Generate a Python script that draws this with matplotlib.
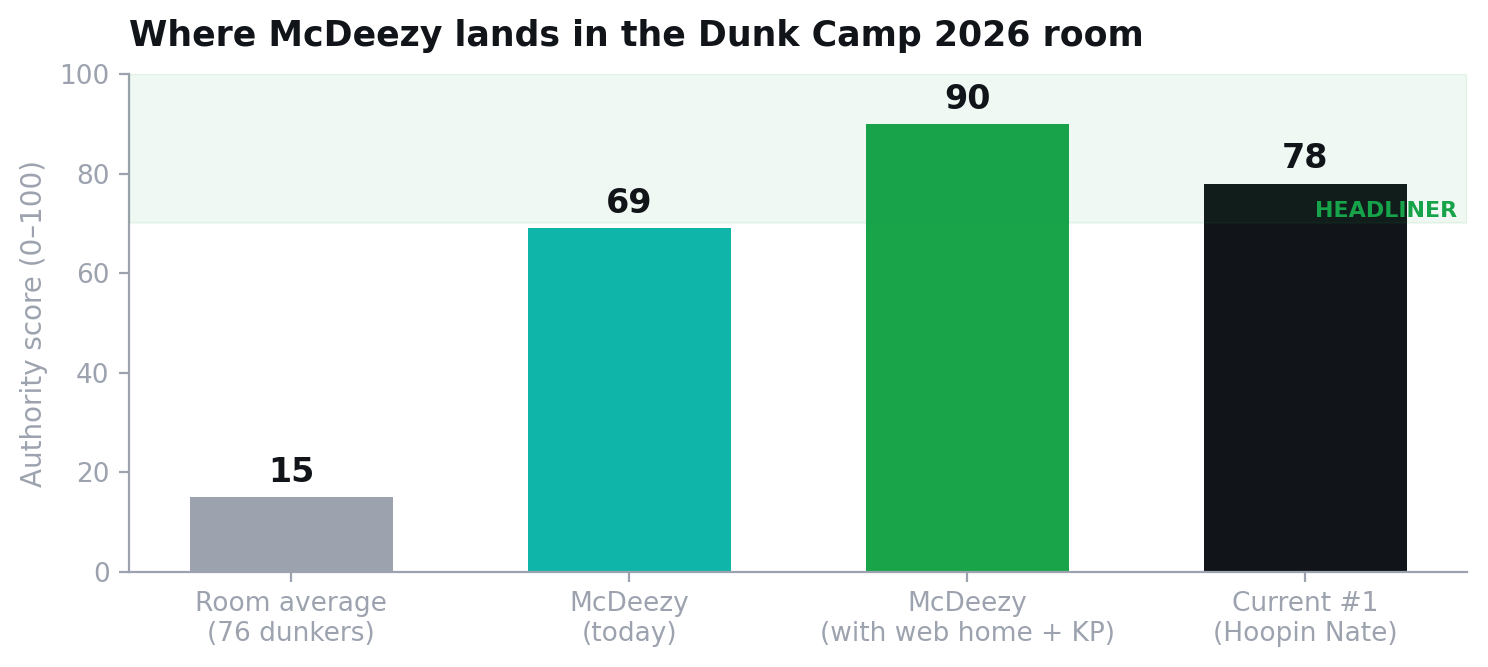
import matplotlib
matplotlib.use("Agg")
import matplotlib.pyplot as plt

# data
labels = ["Room average\n(76 dunkers)", "McDeezy\n(today)",
          "McDeezy\n(with web home + KP)", "Current #1\n(Hoopin Nate)"]
scores = [15, 69, 90, 78]
colors = ["#9ca3af", "#10b5a9", "#19a44a", "#111418"]
band_low = 70
band_high = 100

grey = "#9ca3af"
ink = "#111418"

fig = plt.figure(figsize=(7.44, 3.335), dpi=200)
ax = fig.add_axes([0.0867, 0.1424, 0.8995, 0.7466])

x = range(len(scores))
ax.bar(x, scores, width=0.6, color=colors, zorder=2)

# headliner band
ax.axhspan(band_low, band_high, color="#16a34a", alpha=0.065, lw=0.8, zorder=3)
ax.text(3.45, 72.5, "HEADLINER", ha="right", va="center", fontsize=8,
        fontweight="bold", color="#16a34a", zorder=4)

for i, v in zip(x, scores):
    ax.annotate(str(v), (i, v), xytext=(0, 3), textcoords="offset points",
                ha="center", va="bottom", fontsize=12, fontweight="bold",
                color=ink, zorder=5)

ax.set_ylim(0, 100)
ax.set_xticks(list(x))
ax.set_xticklabels(labels)
ax.set_ylabel("Authority score (0–100)", color=grey, fontsize=10)
ax.set_title("Where McDeezy lands in the Dunk Camp 2026 room", loc="left",
             fontsize=12.5, fontweight="bold", color=ink, pad=10)

ax.tick_params(colors=grey, labelsize=9.5)
for s in ["top", "right"]:
    ax.spines[s].set_visible(False)
for s in ["left", "bottom"]:
    ax.spines[s].set_color(grey)

fig.savefig("out.png", dpi=200)
